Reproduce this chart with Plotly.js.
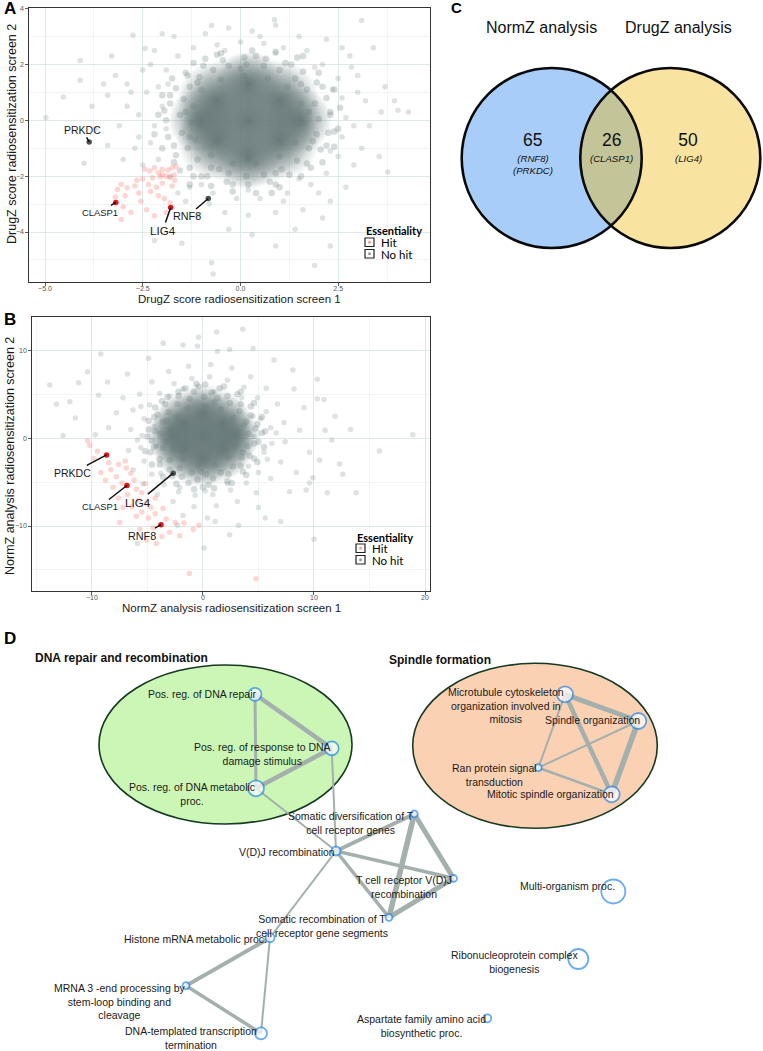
<!DOCTYPE html>
<html>
<head>
<meta charset="utf-8">
<script src="https://cdn.plot.ly/plotly-3.0.1.min.js"></script>
<style>
  html, body { margin: 0; padding: 0; background: #ffffff; }
  #chart { width: 763px; height: 1051px; }
</style>
</head>
<body>
<div id="chart"></div>
<script>
// ---------------- Panel A: DrugZ scores, screen 1 vs screen 2 ----------------
// centres of the densest part of the non-hit gene cloud
const drugzDenseCentres = [[0.2,0.0],[-0.6,0.7],[1.0,0.7],[-0.6,-0.7],[1.0,-0.7],[-1.0,0.0],[1.5,0.0],[0.2,1.3],[0.2,-1.3]];
// individual non-hit genes around the dense centre and in the outskirts
const drugzNoHitMid = [[-1.55,0.2],[-1.45,0.75],[-1.3,1.2],[-1.05,1.55],[-0.7,1.8],[-0.3,1.95],[0.15,2.0],[0.6,1.95],[1.0,1.8],[1.4,1.5],[1.7,1.1],[1.9,0.6],[2.0,0.05],[1.95,-0.5],[1.75,-1.0],[1.45,-1.45],[1.05,-1.75],[0.6,-1.95],[0.15,-2.0],[-0.3,-1.9],[-0.75,-1.7],[-1.1,-1.4],[-1.35,-1.0],[-1.5,-0.45],
  [-1.2,0.5],[-1.0,1.1],[-0.5,1.45],[0.1,1.6],[0.7,1.5],[1.2,1.2],[1.55,0.6],[1.6,-0.1],[1.4,-0.8],[1.0,-1.3],[0.4,-1.55],[-0.2,-1.55],[-0.75,-1.25],[-1.15,-0.7],[-1.25,-0.1],
  [-1.7,-0.9],[-1.8,0.9],[-1.4,1.7],[-0.9,2.2],[0.4,2.3],[1.3,2.0],[2.1,1.2],[2.3,0.3],[2.2,-0.9],[1.8,-1.7],[0.9,-2.3],[-0.2,-2.3],[-1.0,-2.0],[-1.7,-1.5],[-1.95,0.35],[2.4,-0.4],[-0.5,2.4],[0.8,-2.6],[1.6,2.3],[-1.3,-2.3],
  [-1.9,0.0],[-1.8,0.6],[-1.65,1.15],[-1.35,1.6],[-0.95,1.95],[-0.45,2.15],[0.1,2.25],[0.65,2.2],[1.15,2.05],[1.6,1.75],[1.95,1.35],[2.2,0.8],[2.3,0.2],[2.25,-0.45],[2.05,-1.05],[1.7,-1.55],[1.25,-1.95],[0.75,-2.2],[0.2,-2.3],[-0.35,-2.2],[-0.85,-2.0],[-1.3,-1.7],[-1.65,-1.25],[-1.85,-0.6],
  [-2.1,0.2],[-2.0,0.9],[-1.75,1.5],[-1.2,2.05],[-0.6,2.35],[0.3,2.5],[0.9,2.45],[1.45,2.25],[2.0,1.7],[2.4,1.1],[2.55,0.45],[2.5,-0.3],[2.4,-0.95],[2.1,-1.5],[1.55,-2.0],[1.0,-2.4],[0.4,-2.6],[-0.2,-2.55],[-0.75,-2.35],[-1.2,-2.0],[-1.55,-1.8],[-2.0,-1.0],[-2.2,-0.5],
  [-1.4,0.3],[-1.3,-0.6],[-1.1,1.35],[1.75,0.3],[1.85,-0.75],[0.0,1.85],[0.9,-1.9],[-0.55,-1.75],[1.55,1.3]];
const drugzNoHitOuter = [[-2.0,0.5],[-2.2,-0.2],[-2.1,1.2],[-1.9,1.8],[-1.6,2.3],[-1.2,2.6],[-0.6,2.7],[0.0,2.8],[0.6,2.75],[1.1,2.6],[1.7,2.5],[2.1,2.0],[2.5,1.5],[2.6,0.8],[2.7,0.1],[2.6,-0.6],[2.5,-1.3],[2.2,-1.9],[1.8,-2.3],[1.2,-2.6],[0.5,-2.8],[-0.1,-2.8],[-0.7,-2.6],[-1.3,-2.4],[-1.8,-2.0],[-2.1,-1.4],[-2.3,-0.8],
  [-2.6,0.2],[-2.8,1.0],[-2.5,1.8],[-2.2,2.5],[-1.7,3.0],[-0.9,3.1],[-0.3,3.3],[0.3,3.2],[0.9,3.4],[1.5,3.0],[2.2,2.9],[2.8,2.3],[3.0,1.6],[3.2,0.7],[3.3,-0.2],[3.1,-1.0],[2.9,-1.6],[2.7,-2.4],[2.3,-2.9],[1.6,-3.2],[0.9,-3.3],[0.2,-3.4],[-0.4,-3.3],[-1.1,-3.4],[-1.4,-2.9],[-2.6,-0.6],[-2.9,0.5],[-3.1,-0.2],
  [-4.1,2.14],[-4.1,1.43],[-4.53,0.83],[-4.98,0.1],[-3.4,0.9],[-3.7,-0.3],[-4.0,-1.54],[-2.44,2.57],[-2.75,3.04],[-3.2,1.6],[-2.9,1.3],[-2.0,3.1],[-0.74,3.39],[0.87,3.6],[3.1,3.57],[2.84,1.9],[4.03,0.36],[3.94,0.7],[3.55,-1.3],[3.77,-1.85],[4.3,0.3],[3.6,0.3],[3.7,1.2],[3.4,2.6],[-2.2,-4.3],[-0.74,-5.1],[-0.7,-5.5],[-1.5,-4.4],[0.9,-4.5],[1.4,-3.9],[2.1,-3.5],[0.3,-4.1],[-0.3,-3.9],[2.3,-4.5],[1.9,-5.2],[-3.4,-0.9],[-3.0,-1.4],[-2.7,-1.0],[-2.5,-1.6],[-3.5,1.3],[-3.8,0.5],[-3.3,2.3],
  [-1.9,-0.3],[-1.85,1.3],[2.3,-1.1],[2.35,1.1],[0.2,-2.5],[0.9,2.4],[-1.0,-2.3],[1.5,-2.1],[-0.4,2.5],[1.9,1.9],[-2.4,1.0],[2.9,-0.2],[-1.6,-2.6],[0.5,3.0],[2.0,-2.6],[-2.3,2.0],[3.0,1.0],[-0.8,-3.0],[1.1,-2.9],[2.6,2.6]];
// essential hits
const drugzHit = [[-1.65,-1.65],[-1.75,-1.7],[-1.85,-1.78],[-2.0,-1.75],[-2.1,-1.88],[-2.2,-1.7],[-2.32,-1.82],[-2.45,-1.75],[-1.7,-1.95],[-1.9,-2.0],[-2.05,-2.02],[-2.25,-2.06],[-2.5,-2.1],[-1.68,-2.15],[-1.75,-2.35],[-2.0,-2.25],[-2.35,-2.3],[-2.7,-2.35],[-2.9,-2.42],[-3.05,-2.3],[-3.15,-2.48],[-2.95,-2.7],[-2.6,-2.6],[-2.3,-2.55],[-2.1,-2.7],[-1.95,-2.8],[-1.8,-2.95],[-2.55,-2.9],[-3.0,-3.1],[-2.8,-3.3],[-3.05,-3.55],[-2.4,-3.2],[-2.2,-3.42],[-1.9,-3.3],[-2.65,-2.15],[-2.15,-2.4],[-3.2,-2.75],[-1.8,-2.05],[-2.0,-1.95]];
// labelled genes
const drugzGenes = ['PRKDC', 'CLASP1', 'LIG4', 'RNF8'];
const drugzGeneX = [-3.87, -3.19, -1.785, -0.823];
const drugzGeneY = [-0.775, -2.94, -3.12, -2.80];
const drugzGeneHit = [false, true, true, false];

// ---------------- Panel B: NormZ scores, screen 1 vs screen 2 ----------------
const normzDenseCentres = [[0.0,0.3],[-1.8,1.6],[1.8,1.6],[-1.8,-1.2],[1.8,-1.2],[0.0,2.8],[0.0,-2.3],[-2.7,0.3],[2.8,0.3]];
const normzNoHitMid = [[-3.8,0.5],[-3.6,1.9],[-3.1,3.0],[-2.3,3.9],[-1.2,4.5],[0.1,4.7],[1.3,4.6],[2.4,4.0],[3.3,3.1],[3.9,1.9],[4.1,0.5],[4.0,-0.9],[3.5,-2.2],[2.7,-3.2],[1.6,-3.9],[0.3,-4.1],[-1.0,-3.9],[-2.1,-3.4],[-3.0,-2.5],[-3.6,-1.1],
  [-2.9,0.9],[-2.4,2.4],[-1.4,3.4],[0.2,3.6],[1.6,3.3],[2.7,2.3],[3.1,0.8],[3.0,-0.8],[2.3,-2.2],[1.1,-3.0],[-0.4,-3.1],[-1.8,-2.4],[-2.7,-1.3],
  [-4.6,-0.3],[-4.4,2.4],[-3.7,4.2],[-2.2,5.3],[-0.4,5.9],[1.5,5.7],[3.1,5.0],[4.3,3.6],[4.9,1.6],[5.0,-0.4],[4.6,-2.3],[3.6,-3.8],[2.2,-4.9],[0.5,-5.3],[-1.3,-5.1],[-2.8,-4.3],[-3.9,-3.0],[-4.7,-1.6],[-4.9,1.0],[5.3,0.6],[0.0,-5.6],[-0.6,6.2],
  [-4.3,0.8],[-4.1,2.7],[-3.4,3.9],[-2.2,4.8],[-0.8,5.3],[0.8,5.2],[2.2,4.8],[3.4,3.9],[4.3,2.6],[4.7,1.1],[4.6,-0.6],[4.2,-2.0],[3.4,-3.1],[2.3,-4.1],[0.9,-4.6],[-0.5,-4.7],[-1.9,-4.4],[-3.0,-3.6],[-3.9,-2.4],[-4.4,-1.0],
  [-5.0,0.2],[-4.9,2.0],[-4.3,3.5],[-3.2,4.7],[-1.6,5.7],[0.2,6.1],[1.9,5.9],[3.4,5.3],[4.6,4.0],[5.3,2.4],[5.6,0.8],[5.5,-1.0],[4.9,-2.7],[3.9,-4.2],[2.6,-5.1],[1.0,-5.7],[-0.8,-5.8],[-2.4,-5.2],[-3.6,-4.4],[-4.6,-3.0],[-5.2,-1.5],[-3.3,-0.4],[-3.2,2.0],[3.6,-1.6],[3.7,1.5],[-0.2,-3.8],[1.0,4.1]];
const normzNoHitOuter = [[-5.5,0.3],[-5.3,2.2],[-4.8,3.8],[-3.9,5.1],[-2.6,6.2],[-1.0,6.8],[0.6,7.0],[2.2,6.6],[3.7,5.8],[4.9,4.6],[5.7,3.0],[6.1,1.2],[6.2,-0.6],[5.8,-2.4],[5.0,-3.9],[3.9,-5.1],[2.5,-5.9],[0.9,-6.4],[-0.7,-6.5],[-2.2,-6.1],[-3.5,-5.3],[-4.6,-4.1],[-5.3,-2.6],[-5.6,-1.1],
  [-6.5,1.0],[-6.3,3.2],[-5.7,5.0],[-4.6,6.4],[-3.1,7.6],[-1.3,8.2],[0.7,8.4],[2.6,8.0],[4.3,7.0],[5.7,5.7],[6.7,3.9],[7.3,1.8],[7.4,-0.4],[7.0,-2.7],[6.1,-4.6],[4.8,-6.2],[3.1,-7.2],[1.2,-7.7],[-0.8,-7.8],[-2.7,-7.2],[-4.1,-6.4],[-5.4,-5.2],[-6.3,-3.6],[-6.7,-1.4],
  [-4.2,-0.9],[-4.4,1.3],[4.6,0.2],[4.5,2.5],[-3.0,4.8],[3.5,4.6],[1.0,5.3],[-1.8,5.6],[2.2,-5.2],[-2.1,-5.6],[0.2,-6.0],[4.1,-3.2],[-3.8,-4.0],[5.5,-1.6],[-5.9,-0.2],[6.6,0.6],[5.2,2.2],[-5.6,3.6],
  [-13.8,6.06],[-13.2,3.86],[-12.0,4.16],[-10.4,7.57],[-9.4,4.9],[-8.6,6.4],[-7.8,2.9],[-8.5,1.2],[-7.2,4.6],[-6.8,7.3],[-9.7,0.4],[-11.5,2.3],[18.9,0.4],[15.9,-1.45],[13.8,-6.2],[11.2,-6.2],[11.9,2.5],[10.9,4.4],[12.3,-2.95],[10.0,-11.5],[3.58,12.4],[1.23,12.1],[-3.58,10.8],[-1.8,10.6],[1.3,9.9],[2.4,10.1],[8.1,7.76],[10.3,4.5],[-5.9,-12.0],[1.1,-9.5],[7.0,-9.5],[5.6,-9.1],[9.1,3.5],[8.7,0.9],[9.6,-1.6],[8.4,-3.9],[7.8,-6.1],[9.9,-4.5],[8.2,5.6],[6.4,8.9],[4.5,10.2],[-0.5,10.5],[-4.9,9.1],[-2.3,-9.9],[0.4,-9.1],[3.2,-9.9],[5.0,-7.9],[-1.8,-8.8],[2.4,-11.0],[11.0,0.9],[13.3,1.0],[12.6,-4.1],[10.3,6.7],[-11.2,6.3],[-9.2,9.6],[-12.6,0.3],[0.1,-12.5],[-0.4,11.5],[9.3,-5.9],[9.6,-5.1],[10.5,-2.5],[11.6,-0.2]];
const normzHit = [[-10.4,-0.3],[-10.2,-0.8],[-9.5,-1.5],[-9.8,-2.3],[-8.5,-2.8],[-7.6,-3.0],[-7.0,-2.6],[-8.3,-3.6],[-7.8,-4.4],[-6.9,-3.4],[-6.5,-4.0],[-6.2,-4.8],[-7.3,-5.1],[-8.1,-5.6],[-6.0,-5.8],[-5.5,-6.2],[-6.8,-6.4],[-7.6,-6.8],[-5.8,-7.1],[-5.1,-7.4],[-6.4,-7.8],[-7.2,-7.9],[-4.7,-7.9],[-5.5,-8.4],[-4.3,-8.6],[-6.0,-8.9],[-7.5,-9.6],[-4.9,-9.1],[-3.3,-9.2],[-2.5,-9.6],[-4.5,-10.2],[-5.7,-10.4],[-3.0,-10.7],[-3.7,-11.2],[-5.1,-11.6],[-4.2,-12.0],[-0.87,-10.4],[-1.7,-9.65],[-0.36,-9.9],[-2.1,-11.1],[-1.23,-15.4],[4.77,-16.0],[-8.8,-4.8],[-9.2,-3.9],[-5.2,-5.2],[-4.3,-6.8],[-3.6,-8.0]];
const normzGenes = ['PRKDC', 'CLASP1', 'LIG4', 'RNF8'];
const normzGeneX = [-8.68, -6.85, -2.68, -3.78];
const normzGeneY = [-1.9, -5.39, -3.98, -9.85];
const normzGeneHit = [true, true, false, true];

// ---------------- Panel C: overlap of hit lists ----------------
const vennSets = ['NormZ analysis', 'DrugZ analysis'];
const vennCounts = [65, 26, 50];              // NormZ only, both, DrugZ only
const vennGenes = ['(RNF8)<br>(PRKDC)', '(CLASP1)', '(LIG4)'];

// ---------------- Panel D: enriched GO term network ----------------
const goTerms = [
  'Pos. reg. of DNA repair',
  'Pos. reg. of response to DNA<br>damage stimulus',
  'Pos. reg. of DNA metabolic<br>proc.',
  'V(D)J recombination',
  'Somatic diversification of T<br>cell receptor genes',
  'T cell receptor V(D)J<br>recombination',
  'Somatic recombination of T<br>cell receptor gene segments',
  'Histone mRNA metabolic proc.',
  'MRNA 3 -end processing by<br>stem-loop binding and<br>cleavage',
  'DNA-templated transcription<br>termination',
  'Microtubule cytoskeleton<br>organization involved in<br>mitosis',
  'Spindle organization',
  'Ran protein signal<br>transduction',
  'Mitotic spindle organization',
  'Multi-organism proc.',
  'Ribonucleoprotein complex<br>biogenesis',
  'Aspartate family amino acid<br>biosynthetic proc.'
];
const goX = [255, 331.7, 256, 336, 414.3, 453.5, 389, 270, 186, 261, 565, 638.3, 538.3, 611.7, 613.3, 578.3, 487.3];
const goY = [694.3, 748.3, 788.3, 851, 814, 878.3, 917.3, 937.7, 985.7, 1033.3, 694.3, 721, 767.7, 794.3, 891.5, 959, 1018.3];
const goNodeRadius = [6.5, 7, 8, 4.5, 3.5, 3.5, 3.5, 4.5, 3.5, 6, 8, 8, 3.5, 8, 12, 10, 4];
// [term, term, similarity weight]
const goEdges = [[0,1,4.5],[0,2,3],[1,2,4.5],[1,3,2],[2,3,2],[3,4,4],[3,5,3.5],[3,6,3.5],[3,7,2],[4,5,5],[4,6,5.5],[5,6,5],[7,8,4],[7,9,2],[8,9,3.5],[10,11,5],[10,13,4.5],[10,12,2],[11,13,5.5],[11,12,2],[12,13,2.5]];
const goGroups = ['DNA repair and recombination', 'Spindle formation'];

// label placement relative to each node (pixels): dx, dy, anchor
const goLabelDx = [3, -69, -64, 1, -63.5, -49.5, -67, -1, -67, -70, -59, -46, -44, -61, -46, -64, -66];
const goLabelDy = [0, 6, 5.5, 1, 9, 8.5, 9, 1, 16, 4.5, 11, -1, 7.5, 0, -5.5, 3, 8];
const goLabelAnchor = ['right','center','center','right','center','center','center','right','center','center','center','center','center','center','center','center','center'];

// ---------------- helpers ----------------
const W = 763, H = 1051;
const px = v => v / W;
const py = v => 1 - v / H;
const SANS = 'Liberation Sans, Arial, sans-serif';
const LEG = 'Lato, Open Sans, sans-serif';
const GREY = 'rgb(104,121,121)';
const GREY_CLEAR = 'rgba(104,121,121,0)';
const PINK = 'rgb(248,118,109)';
const RED = 'rgb(236,20,20)';

function cloud(points, xa, ya, size, color, opacity) {
  return {
    type: 'scatter', mode: 'markers',
    x: points.map(p => p[0]), y: points.map(p => p[1]),
    xaxis: xa, yaxis: ya,
    marker: { size: size, color: color, opacity: opacity, line: { width: 0 } },
    hoverinfo: 'skip', showlegend: false
  };
}

// soft radial blobs standing in for the thousands of overlapping genes at the centre
function denseCloud(points, sizes, xa, ya) {
  return {
    type: 'scatter', mode: 'markers',
    x: points.map(p => p[0]), y: points.map(p => p[1]),
    xaxis: xa, yaxis: ya,
    marker: { size: sizes, color: GREY_CLEAR, gradient: { type: 'radial', color: GREY }, opacity: 1, line: { width: 0 } },
    hoverinfo: 'skip', showlegend: false
  };
}

function genePoints(xs, ys, hits, xa, ya) {
  return {
    type: 'scatter', mode: 'markers', x: xs, y: ys, xaxis: xa, yaxis: ya,
    marker: { size: 5.5, color: hits.map(h => h ? RED : 'rgb(72,84,84)'), line: { width: 0 } },
    hoverinfo: 'skip', showlegend: false
  };
}

const traces = [];
// panel A
traces.push(cloud(drugzNoHitOuter, 'x', 'y', 5.5, GREY, 0.22));
traces.push(cloud(drugzNoHitMid, 'x', 'y', 6.5, GREY, 0.27));
traces.push(denseCloud(drugzDenseCentres, [135, 80, 80, 80, 80, 66, 66, 66, 66], 'x', 'y'));
traces.push(cloud(drugzHit, 'x', 'y', 5.5, PINK, 0.3));
traces.push(genePoints(drugzGeneX, drugzGeneY, drugzGeneHit, 'x', 'y'));
// panel B
traces.push(cloud(normzNoHitOuter, 'x2', 'y2', 5.5, GREY, 0.22));
traces.push(cloud(normzNoHitMid, 'x2', 'y2', 6.5, GREY, 0.27));
traces.push(denseCloud(normzDenseCentres, [105, 60, 60, 60, 60, 54, 54, 54, 54], 'x2', 'y2'));
traces.push(cloud(normzHit, 'x2', 'y2', 5.5, PINK, 0.3));
traces.push(genePoints(normzGeneX, normzGeneY, normzGeneHit, 'x2', 'y2'));

// panel C: counts in each region
const venn = { lx: 551.7, rx: 670.3, cy: 158, r: 90 };
const vennTextX = [532.7, 611.7, 688];
traces.push({
  type: 'scatter', mode: 'text', xaxis: 'x3', yaxis: 'y3',
  x: vennTextX, y: vennCounts.map(() => 141.5),
  text: vennCounts.map(String),
  textfont: { family: SANS, size: 17.5, color: '#111' },
  textposition: 'middle center', hoverinfo: 'skip', showlegend: false
});

// panel D: edges, then nodes
goEdges.forEach(e => {
  traces.push({
    type: 'scatter', mode: 'lines', xaxis: 'x4', yaxis: 'y4',
    x: [goX[e[0]], goX[e[1]]], y: [goY[e[0]], goY[e[1]]],
    line: { color: 'rgb(164,176,173)', width: e[2] },
    hoverinfo: 'skip', showlegend: false
  });
});
traces.push({
  type: 'scatter', mode: 'markers', xaxis: 'x4', yaxis: 'y4',
  x: goX, y: goY,
  marker: { size: goNodeRadius.map(r => 2 * r), color: '#ffffff', line: { color: 'rgb(40,138,236)', width: 1.8 } },
  hoverinfo: 'skip', showlegend: false
});

// ---------------- annotations ----------------
const ann = [];
function paperText(text, x, y, opts) {
  ann.push(Object.assign({
    text: text, x: px(x), y: py(y), xref: 'paper', yref: 'paper',
    showarrow: false, xanchor: 'center', yanchor: 'middle',
    font: { family: SANS, size: 11.5, color: '#1a1a1a' }
  }, opts || {}));
}

// panel letters
paperText('<b>A</b>', 2, 9, { xanchor: 'left', font: { family: SANS, size: 17, color: '#000' } });
paperText('<b>B</b>', 2, 319, { xanchor: 'left', font: { family: SANS, size: 17, color: '#000' } });
paperText('<b>C</b>', 449, 8, { xanchor: 'left', font: { family: SANS, size: 15, color: '#000' } });
paperText('<b>D</b>', 2, 638, { xanchor: 'left', font: { family: SANS, size: 17, color: '#000' } });

// axis titles
paperText('DrugZ score radiosensitization screen 1', 239, 299);
paperText('DrugZ score radiosensitization screen 2', 12, 134, { textangle: -90, font: { family: SANS, size: 12.5, color: '#1a1a1a' } });
paperText('NormZ analysis radiosensitization screen 1', 231, 608);
paperText('NormZ analysis radiosensitization screen 2', 10, 456, { textangle: -90, font: { family: SANS, size: 12.5, color: '#1a1a1a' } });

// gene call-outs
const calloutFont = { PRKDC: 10.5, CLASP1: 9.4, LIG4: 11.6, RNF8: 10.8 };
const drugzOffsets = [[-7, -12], [-16, 10], [-8, 23], [-21, 18]];
const normzOffsets = [[-34, 18], [-27, 21], [-35, 29], [-19, 11]];
function callouts(genes, xs, ys, offs, xa, ya) {
  genes.forEach((g, i) => {
    ann.push({
      text: g, x: xs[i], y: ys[i], xref: xa, yref: ya,
      ax: offs[i][0], ay: offs[i][1], showarrow: true, arrowhead: 0,
      arrowwidth: 1.5, arrowcolor: '#111', standoff: 0,
      font: { family: SANS, size: calloutFont[g], color: '#1a1a1a' }
    });
  });
}
callouts(drugzGenes, drugzGeneX, drugzGeneY, drugzOffsets, 'x', 'y');
callouts(normzGenes, normzGeneX, normzGeneY, normzOffsets, 'x2', 'y2');

// legends for panels A and B
const shapes = [];
function legend(x, y) {
  paperText('<b>Essentiality</b>', x, y, { xanchor: 'left', font: { family: LEG, size: 11, color: '#000' } });
  [[PINK, 'Hit'], [GREY, 'No hit']].forEach((k, i) => {
    const top = y + 7 + i * 11.5;
    shapes.push({ type: 'rect', xref: 'paper', yref: 'paper', x0: px(x + 1), x1: px(x + 10), y0: py(top), y1: py(top + 8.5),
      line: { color: '#222', width: 1.2 }, fillcolor: '#ffffff' });
    shapes.push({ type: 'circle', xref: 'paper', yref: 'paper', x0: px(x + 4), x1: px(x + 7), y0: py(top + 2.8), y1: py(top + 5.8),
      line: { width: 0 }, fillcolor: k[0], opacity: 0.75 });
    paperText(k[1], x + 15, top + 4.5, { xanchor: 'left', font: { family: LEG, size: 11.5, color: '#000' } });
  });
}
legend(364, 231);
legend(355, 537);

// panel C titles and gene names
vennSets.forEach((s, i) => {
  ann.push({ text: s, x: [541.7, 678][i], y: 27, xref: 'x3', yref: 'y3', showarrow: false,
    font: { family: SANS, size: 16, color: '#111' } });
});
vennGenes.forEach((g, i) => {
  ann.push({ text: '<i>' + g + '</i>', x: vennTextX[i], y: 151, xref: 'x3', yref: 'y3', showarrow: false,
    yanchor: 'top', font: { family: SANS, size: 9.6, color: '#111' } });
});

// venn circles: fills, overlap lens, outlines (kept beneath the count labels)
shapes.push({ type: 'circle', xref: 'x3', yref: 'y3', layer: 'below', x0: venn.lx - venn.r, x1: venn.lx + venn.r, y0: venn.cy - venn.r, y1: venn.cy + venn.r,
  fillcolor: 'rgb(169,205,249)', line: { width: 0 } });
shapes.push({ type: 'circle', xref: 'x3', yref: 'y3', layer: 'below', x0: venn.rx - venn.r, x1: venn.rx + venn.r, y0: venn.cy - venn.r, y1: venn.cy + venn.r,
  fillcolor: 'rgb(248,227,161)', line: { width: 0 } });
(function () {
  const a = (venn.rx - venn.lx) / 2;
  const h = Math.sqrt(venn.r * venn.r - a * a);
  const t = Math.atan2(h, a);
  const pts = [];
  for (let i = 0; i <= 40; i++) {
    const ang = -t + 2 * t * i / 40;
    pts.push([venn.lx + venn.r * Math.cos(ang), venn.cy + venn.r * Math.sin(ang)]);
  }
  for (let i = 0; i <= 40; i++) {
    const ang = Math.PI - t + 2 * t * i / 40;
    pts.push([venn.rx + venn.r * Math.cos(ang), venn.cy + venn.r * Math.sin(ang)]);
  }
  const path = 'M ' + pts.map(p => p[0].toFixed(2) + ' ' + p[1].toFixed(2)).join(' L ') + ' Z';
  shapes.push({ type: 'path', xref: 'x3', yref: 'y3', layer: 'below', path: path, fillcolor: 'rgb(196,196,153)', line: { width: 0 } });
})();
[venn.lx, venn.rx].forEach(cx => {
  shapes.push({ type: 'circle', xref: 'x3', yref: 'y3', layer: 'below', x0: cx - venn.r, x1: cx + venn.r, y0: venn.cy - venn.r, y1: venn.cy + venn.r,
    line: { color: '#0a0a0a', width: 2.6 }, fillcolor: 'rgba(0,0,0,0)' });
});

// panel D: cluster ellipses, group titles and term labels
shapes.push({ type: 'circle', xref: 'x4', yref: 'y4', layer: 'below', x0: 99, x1: 352, y0: 665, y1: 824,
  fillcolor: 'rgb(203,246,181)', line: { color: 'rgb(22,58,34)', width: 1.6 } });
shapes.push({ type: 'circle', xref: 'x4', yref: 'y4', layer: 'below', x0: 412.7, x1: 657.3, y0: 663.3, y1: 828.3,
  fillcolor: 'rgb(251,209,180)', line: { color: 'rgb(22,58,34)', width: 1.6 } });
ann.push({ text: '<b>' + goGroups[0] + '</b>', x: 33, y: 658, xref: 'x4', yref: 'y4', xanchor: 'left', showarrow: false,
  font: { family: SANS, size: 12, color: '#111' } });
ann.push({ text: '<b>' + goGroups[1] + '</b>', x: 387, y: 660, xref: 'x4', yref: 'y4', xanchor: 'left', showarrow: false,
  font: { family: SANS, size: 12, color: '#111' } });
goTerms.forEach((t, i) => {
  ann.push({ text: t, x: goX[i] + goLabelDx[i], y: goY[i] + goLabelDy[i], xref: 'x4', yref: 'y4',
    xanchor: goLabelAnchor[i], yanchor: 'middle', showarrow: false,
    font: { family: SANS, size: 10.5, color: '#1a1a1a' } });
});

// ---------------- axes ----------------
const GRID = 'rgb(220,230,230)';
const GRID_MINOR = 'rgb(233,239,239)';
function scatterAxis(extra) {
  return Object.assign({
    ticks: 'outside', ticklen: 2.5, tickwidth: 0.8, tickcolor: '#333',
    tickfont: { family: SANS, size: 7, color: '#555' },
    showgrid: true, gridcolor: GRID, gridwidth: 0.9,
    zeroline: false, showline: true, mirror: true, linecolor: '#333', linewidth: 1.2,
    fixedrange: true
  }, extra);
}
const hidden = { visible: false, fixedrange: true, showgrid: false, zeroline: false };

const layout = {
  width: W, height: H, autosize: false,
  margin: { l: 0, r: 0, t: 0, b: 0, pad: 0 },
  paper_bgcolor: '#ffffff', plot_bgcolor: 'rgba(0,0,0,0)',
  showlegend: false,
  xaxis: scatterAxis({ domain: [px(29), px(430)], range: [-5.41, 4.85], anchor: 'y', tick0: 0, dtick: 2.5, tickformat: '.1f', ticklabelstandoff: -3,
    minor: { tick0: 0, dtick: 1.25, showgrid: true, gridcolor: GRID_MINOR, gridwidth: 0.6 } }),
  yaxis: scatterAxis({ domain: [py(282), py(8)], range: [-5.79, 4.02], anchor: 'x', tick0: 0, dtick: 2,
    minor: { tick0: 0, dtick: 1, showgrid: true, gridcolor: GRID_MINOR, gridwidth: 0.6 } }),
  xaxis2: scatterAxis({ domain: [px(32), px(430)], range: [-15.4, 20.45], anchor: 'y2', tick0: 0, dtick: 10, ticklabelstandoff: -3,
    minor: { tick0: 0, dtick: 5, showgrid: true, gridcolor: GRID_MINOR, gridwidth: 0.6 } }),
  yaxis2: scatterAxis({ domain: [py(591), py(317)], range: [-17.4, 13.8], anchor: 'x2', tick0: 0, dtick: 10,
    minor: { tick0: 0, dtick: 5, showgrid: true, gridcolor: GRID_MINOR, gridwidth: 0.6 } }),
  xaxis3: Object.assign({ domain: [px(440), 1], range: [440, 763], anchor: 'y3' }, hidden),
  yaxis3: Object.assign({ domain: [py(260), 1], range: [260, 0], anchor: 'x3' }, hidden),
  xaxis4: Object.assign({ domain: [0, 1], range: [0, 763], anchor: 'y4' }, hidden),
  yaxis4: Object.assign({ domain: [0, py(630)], range: [1051, 630], anchor: 'x4' }, hidden),
  shapes: shapes,
  annotations: ann
};

Plotly.newPlot('chart', traces, layout, { staticPlot: true, displayModeBar: false });
</script>
</body>
</html>
